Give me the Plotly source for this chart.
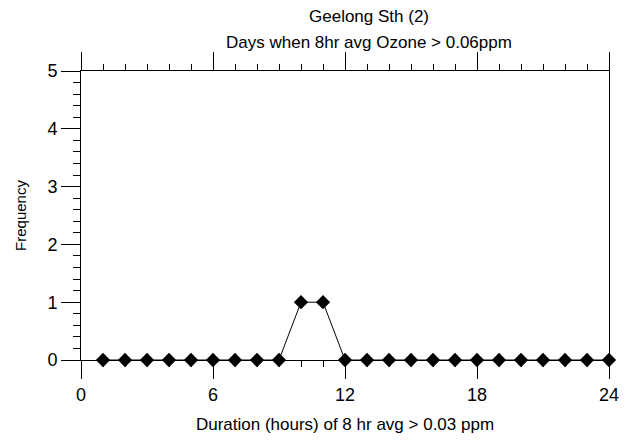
import plotly.graph_objects as go

# duration (hours) and number of days
hours = list(range(1, 25))
frequency = [0, 0, 0, 0, 0, 0, 0, 0, 0, 1, 1, 0,
             0, 0, 0, 0, 0, 0, 0, 0, 0, 0, 0, 0]

x_ticks = [0, 6, 12, 18, 24]
y_ticks = [0, 1, 2, 3, 4, 5]

title_lines = ["Geelong Sth (2)", "Days when 8hr avg Ozone > 0.06ppm"]

font = "Liberation Sans, Arial, sans-serif"

fig = go.Figure()
fig.add_trace(go.Scatter(
    x=hours, y=frequency, mode="lines+markers",
    line=dict(color="black", width=1),
    marker=dict(symbol="diamond", size=11, color="black"),
    cliponaxis=False, showlegend=False,
))

# two title lines, spaced like the original
for txt, yy in zip(title_lines, [1.187, 1.100]):
    fig.add_annotation(text=txt, xref="paper", yref="paper", x=0.545, y=yy,
                       xanchor="center", yanchor="middle", showarrow=False,
                       font=dict(size=17))

# page body adds an 8px offset, so the figure is drawn 8px smaller
fig.update_layout(
    width=628, height=434,
    margin=dict(l=73, r=27, t=63, b=82),
    paper_bgcolor="white", plot_bgcolor="white",
    font=dict(family=font, size=16, color="black"),
    xaxis=dict(
        range=[0, 24], tickvals=x_ticks, ticks="outside", ticklen=18,
        tickwidth=1, tickcolor="black",
        minor=dict(dtick=1, ticks="outside", ticklen=6, tickcolor="black"),
        showline=True, linecolor="black", linewidth=1, mirror="allticks",
        showgrid=False, zeroline=False,
        tickfont=dict(size=18),
        title=dict(text="Duration (hours) of 8 hr avg > 0.03 ppm",
                   font=dict(size=17), standoff=14),
    ),
    yaxis=dict(
        range=[0, 5], tickvals=y_ticks, ticks="outside", ticklen=19,
        tickwidth=1, tickcolor="black", ticksuffix=" ",
        minor=dict(dtick=0.2, ticks="outside", ticklen=7, tickcolor="black"),
        showline=True, linecolor="black", linewidth=1, mirror=True,
        showgrid=False, zeroline=False,
        tickfont=dict(size=18),
        title=dict(text="Frequency", font=dict(size=15), standoff=17),
    ),
)

fig.write_html("out.html")
